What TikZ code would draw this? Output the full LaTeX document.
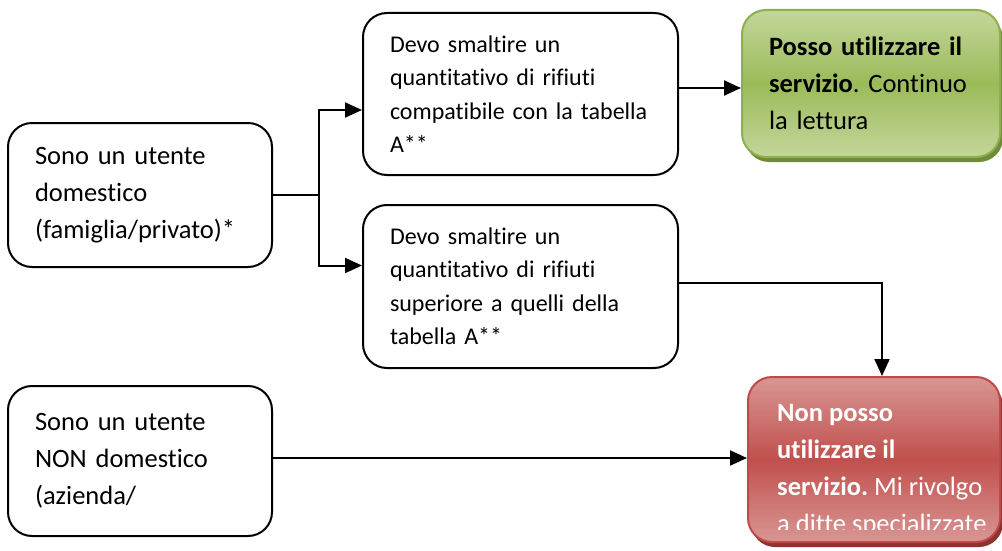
\documentclass[tikz,border=0pt]{standalone}
\usepackage{fontspec}
\setmainfont{Carlito}[RawFeature={-liga}]
\frenchspacing
\usetikzlibrary{arrows.meta,shadows}
\definecolor{verdeChiaro}{HTML}{C3D69B}
\definecolor{verdeScuro}{HTML}{9BBB59}
\definecolor{verdeBordo}{HTML}{8EB04C}
\definecolor{verdeOmbra}{HTML}{6E8B38}
\definecolor{rossoChiaro}{HTML}{D99694}
\definecolor{rossoScuro}{HTML}{C0504D}
\definecolor{rossoBordo}{HTML}{BE4B48}
\definecolor{rossoOmbra}{HTML}{8C3230}
\tikzset{
    box/.style={draw, line width=2pt, rounded corners=24pt, align=left, inner xsep=27pt, inner ysep=0pt},
    bigtext/.style={font=\fontsize{26.5}{37}\selectfont},
    smalltext/.style={font=\fontsize{24}{33.5}\selectfont},
    link/.style={line width=2pt},
    linkarrow/.style={link, -{Triangle[length=17pt, width=15pt]}},
}
\begin{document}
\begin{tikzpicture}[x=1pt, y=-1pt]
        \useasboundingbox (0, 0) rectangle (1002, 551);
        \node[box, bigtext, text width=210pt, minimum height=144pt] (dom) at (140, 195) {Sono un utente\\ domestico\\ (famiglia/privato)*};
        \node[box, bigtext, text width=210pt, minimum height=150pt] (nondom) at (140, 461) {Sono un utente\\ NON domestico\\ (azienda/};
        \node[box, smalltext, text width=261pt, minimum height=162pt] (compat) at (520.5, 94) {Devo smaltire un\\ quantitativo di rifiuti\\ compatibile con la tabella\\ A**};
        \node[box, smalltext, text width=261pt, minimum height=163pt] (super) at (520.5, 286.5) {Devo smaltire un\\ quantitativo di rifiuti\\ superiore a quelli della\\ tabella A**};
        \node[box, bigtext, draw=verdeBordo, top color=verdeChiaro, bottom color=verdeChiaro, middle color=verdeScuro,
              drop shadow={shadow xshift=3pt, shadow yshift=-5pt, fill=verdeOmbra, opacity=1},
              text width=204pt, minimum height=147pt] (si) at (871, 83.5) {\textbf{Posso utilizzare il}\\ \textbf{servizio}. Continuo\\ la lettura};
        \node[box, draw=rossoBordo, top color=rossoChiaro, bottom color=rossoChiaro, middle color=rossoScuro,
              drop shadow={shadow xshift=3pt, shadow yshift=-5pt, fill=rossoOmbra, opacity=1},
              minimum width=252pt, minimum height=165pt, inner sep=0pt] (no) at (874, 459.5) {};
        \begin{scope}
            \clip (no.north west) rectangle ([yshift=14pt]no.south east);
            \node[bigtext, text=white, align=left, anchor=north west, inner sep=0pt] (notxt) at ([xshift=30pt, yshift=-28pt]no.north west) {\textbf{Non posso}\\ \textbf{utilizzare il}\\ \textbf{servizio.} Mi rivolgo\\ a ditte specializzate};
        \end{scope}
        \coordinate (fork) at ([xshift=46pt]dom.east);
        \draw[link] (dom.east) -- (fork);
        \draw[linkarrow] (fork) |- ([yshift=-16pt]compat.west);
        \draw[linkarrow] (fork) |- ([yshift=21pt]super.west);
        \draw[linkarrow] ([yshift=6pt]compat.east) coordinate (c1) -- (c1 -| si.west);
        \draw[linkarrow] ([yshift=4pt]super.east) -| ([xshift=8pt]no.north);
        \draw[linkarrow] ([yshift=3pt]nondom.east) coordinate (c2) -- (c2 -| no.west);
    \end{tikzpicture}
\end{document}
